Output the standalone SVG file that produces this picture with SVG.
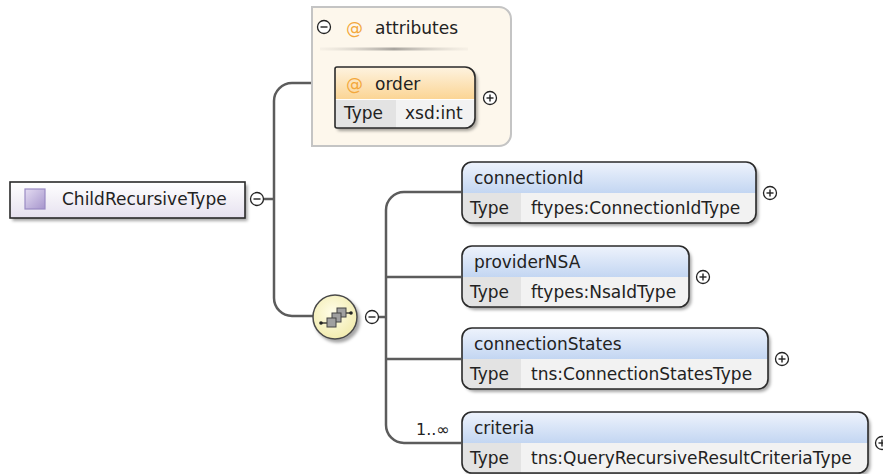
<svg xmlns="http://www.w3.org/2000/svg" width="883" height="474" viewBox="0 0 883 474">
<defs>
<filter id="sh" x="-10%" y="-10%" width="130%" height="140%">
<feDropShadow dx="2.5" dy="3" stdDeviation="1.8" flood-color="#000" flood-opacity="0.35"/>
</filter>
<linearGradient id="blue" x1="0" y1="0" x2="0" y2="1">
<stop offset="0" stop-color="#eef3fc"/><stop offset="1" stop-color="#c3d6f2"/>
</linearGradient>
<linearGradient id="orange" x1="0" y1="0" x2="0" y2="1">
<stop offset="0" stop-color="#fef3e0"/><stop offset="1" stop-color="#fbd595"/>
</linearGradient>
<linearGradient id="root" x1="0" y1="0" x2="0" y2="1">
<stop offset="0" stop-color="#ffffff"/><stop offset="1" stop-color="#e6e1ef"/>
</linearGradient>
<linearGradient id="sq" x1="0" y1="0" x2="1" y2="1">
<stop offset="0" stop-color="#e4dcf2"/><stop offset="1" stop-color="#a695cc"/>
</linearGradient>
<radialGradient id="seq" cx="0.45" cy="0.4" r="0.6">
<stop offset="0" stop-color="#fffde8"/><stop offset="1" stop-color="#f2ecb0"/>
</radialGradient>
<linearGradient id="sep" x1="0" y1="0" x2="1" y2="0">
<stop offset="0" stop-color="#e8e2d8" stop-opacity="0.3"/><stop offset="0.5" stop-color="#a8a49e"/><stop offset="1" stop-color="#e8e2d8" stop-opacity="0.3"/>
</linearGradient>
<style>
text{font-family:"DejaVu Sans","Liberation Sans",sans-serif;font-size:17px;fill:#222}
.con{fill:none;stroke:#5c5c5c;stroke-width:2.5}
.bd{fill:none;stroke:#2a2a2a;stroke-width:1.6}
.row{fill:#f2f2f2}
.tc{fill:#e3e3e3}
.hb{fill:url(#blue)}
.tog circle{fill:#fff;stroke:#222;stroke-width:1.3}
.tog line{stroke:#222;stroke-width:1.4}
.at{fill:#f3a83c}
</style>
</defs>

<g id="connectors">
<line class="con" x1="263" y1="199" x2="274" y2="199"/>
<path class="con" d="M312,83 H292 A18,18 0 0 0 274,101 V298 A18,18 0 0 0 292,316 H313"/>
<line class="con" x1="378" y1="317" x2="386" y2="317"/>
<path class="con" d="M461,192 H404 A18,18 0 0 0 386,210 V425 A18,18 0 0 0 404,443 H461"/>
<line class="con" x1="386" y1="277" x2="461" y2="277"/>
<line class="con" x1="386" y1="359" x2="461" y2="359"/>
<text x="416" y="435" style="font-size:16px">1..∞</text>
</g>

<g id="ChildRecursiveType">
<rect x="10" y="182" width="235" height="36" fill="url(#root)" filter="url(#sh)"/>
<rect class="bd" x="10" y="182" width="235" height="36"/>
<rect x="25" y="189" width="20" height="20" fill="url(#sq)" stroke="#9a8bc4" stroke-width="1.2"/>
<text x="62" y="205">ChildRecursiveType</text>
<g class="tog"><circle cx="257" cy="199" r="6.5"/><line x1="253.5" y1="199" x2="260.5" y2="199"/></g>
</g>

<g id="attributes">
<path d="M312,7 H499 A12,12 0 0 1 511,19 V134 A12,12 0 0 1 499,146 H312 Z" fill="#fdf7ec" stroke="#c4c4c4" stroke-width="2"/>
<g class="tog"><circle cx="324" cy="27" r="6.5"/><line x1="320.5" y1="27" x2="327.5" y2="27"/></g>
<text class="at" x="346" y="34">@</text>
<text x="375" y="34">attributes</text>
<rect x="320" y="47.5" width="148" height="3" fill="url(#sep)"/>
</g>

<g id="order">
<path d="M337,67 H465 A10,10 0 0 1 475,77 V118 A10,10 0 0 1 465,128 H337 A2,2 0 0 1 335,126 V69 A2,2 0 0 1 337,67 Z" class="row" filter="url(#sh)"/>
<path d="M335,99 V69 A2,2 0 0 1 337,67 H465 A10,10 0 0 1 475,77 V99 Z" fill="url(#orange)"/>
<path d="M335,99 H396 V128 H337 A2,2 0 0 1 335,126 Z" class="tc"/>
<line x1="335" y1="99.5" x2="475" y2="99.5" stroke="#fff" stroke-width="1"/>
<path class="bd" d="M337,67 H465 A10,10 0 0 1 475,77 V118 A10,10 0 0 1 465,128 H337 A2,2 0 0 1 335,126 V69 A2,2 0 0 1 337,67 Z"/>
<text class="at" x="346" y="90">@</text>
<text x="375" y="90">order</text>
<text x="344" y="119">Type</text>
<text x="405" y="119">xsd:int</text>
<g class="tog"><circle cx="490" cy="98" r="6.5"/><line x1="486.5" y1="98" x2="493.5" y2="98"/><line x1="490" y1="94.5" x2="490" y2="101.5"/></g>
</g>

<g id="sequence">
<circle cx="335" cy="317" r="22" fill="url(#seq)" stroke="#4a4a4a" stroke-width="1.5" filter="url(#sh)"/>
<line x1="321" y1="323" x2="328" y2="323" stroke="#222" stroke-width="1.3"/>
<line x1="345" y1="313" x2="351" y2="313" stroke="#222" stroke-width="1.3"/>
<circle cx="321" cy="323" r="1.8" fill="#222"/>
<circle cx="351" cy="313" r="1.8" fill="#222"/>
<rect x="337" y="308" width="9" height="9" fill="#a0a0a0" stroke="#444" stroke-width="1"/>
<rect x="332" y="313" width="9" height="9" fill="#a0a0a0" stroke="#444" stroke-width="1"/>
<rect x="327" y="318" width="9" height="9" fill="#a0a0a0" stroke="#444" stroke-width="1"/>
<g class="tog"><circle cx="372" cy="317" r="6.5"/><line x1="368.5" y1="317" x2="375.5" y2="317"/></g>
</g>

<g id="connectionId">
<rect class="row" x="462" y="162" width="294" height="61" rx="10" filter="url(#sh)"/>
<path class="hb" d="M462,193 V172 A10,10 0 0 1 472,162 H746 A10,10 0 0 1 756,172 V193 Z"/>
<path class="tc" d="M462,193 H521 V223 H472 A10,10 0 0 1 462,213 Z"/>
<rect class="bd" x="462" y="162" width="294" height="61" rx="10"/>
<text x="474" y="184">connectionId</text>
<text x="470" y="214">Type</text>
<text x="531" y="214">ftypes:ConnectionIdType</text>
<g class="tog"><circle cx="770" cy="193" r="6.5"/><line x1="766.5" y1="193" x2="773.5" y2="193"/><line x1="770" y1="189.5" x2="770" y2="196.5"/></g>
</g>

<g id="providerNSA">
<rect class="row" x="462" y="246" width="227" height="61" rx="10" filter="url(#sh)"/>
<path class="hb" d="M462,277 V256 A10,10 0 0 1 472,246 H679 A10,10 0 0 1 689,256 V277 Z"/>
<path class="tc" d="M462,277 H521 V307 H472 A10,10 0 0 1 462,297 Z"/>
<rect class="bd" x="462" y="246" width="227" height="61" rx="10"/>
<text x="474" y="268">providerNSA</text>
<text x="470" y="298">Type</text>
<text x="531" y="298">ftypes:NsaIdType</text>
<g class="tog"><circle cx="703" cy="277" r="6.5"/><line x1="699.5" y1="277" x2="706.5" y2="277"/><line x1="703" y1="273.5" x2="703" y2="280.5"/></g>
</g>

<g id="connectionStates">
<rect class="row" x="462" y="328" width="306" height="61" rx="10" filter="url(#sh)"/>
<path class="hb" d="M462,359 V338 A10,10 0 0 1 472,328 H758 A10,10 0 0 1 768,338 V359 Z"/>
<path class="tc" d="M462,359 H521 V389 H472 A10,10 0 0 1 462,379 Z"/>
<rect class="bd" x="462" y="328" width="306" height="61" rx="10"/>
<text x="474" y="350">connectionStates</text>
<text x="470" y="380">Type</text>
<text x="531" y="380">tns:ConnectionStatesType</text>
<g class="tog"><circle cx="782" cy="359" r="6.5"/><line x1="778.5" y1="359" x2="785.5" y2="359"/><line x1="782" y1="355.5" x2="782" y2="362.5"/></g>
</g>

<g id="criteria">
<rect class="row" x="462" y="412" width="406" height="61" rx="10" filter="url(#sh)"/>
<path class="hb" d="M462,443 V422 A10,10 0 0 1 472,412 H858 A10,10 0 0 1 868,422 V443 Z"/>
<path class="tc" d="M462,443 H521 V473 H472 A10,10 0 0 1 462,463 Z"/>
<rect class="bd" x="462" y="412" width="406" height="61" rx="10"/>
<text x="474" y="434">criteria</text>
<text x="470" y="464">Type</text>
<text x="531" y="464">tns:QueryRecursiveResultCriteriaType</text>
<g class="tog"><circle cx="882" cy="443" r="6.5"/><line x1="878.5" y1="443" x2="885.5" y2="443"/><line x1="882" y1="439.5" x2="882" y2="446.5"/></g>
</g>
</svg>
